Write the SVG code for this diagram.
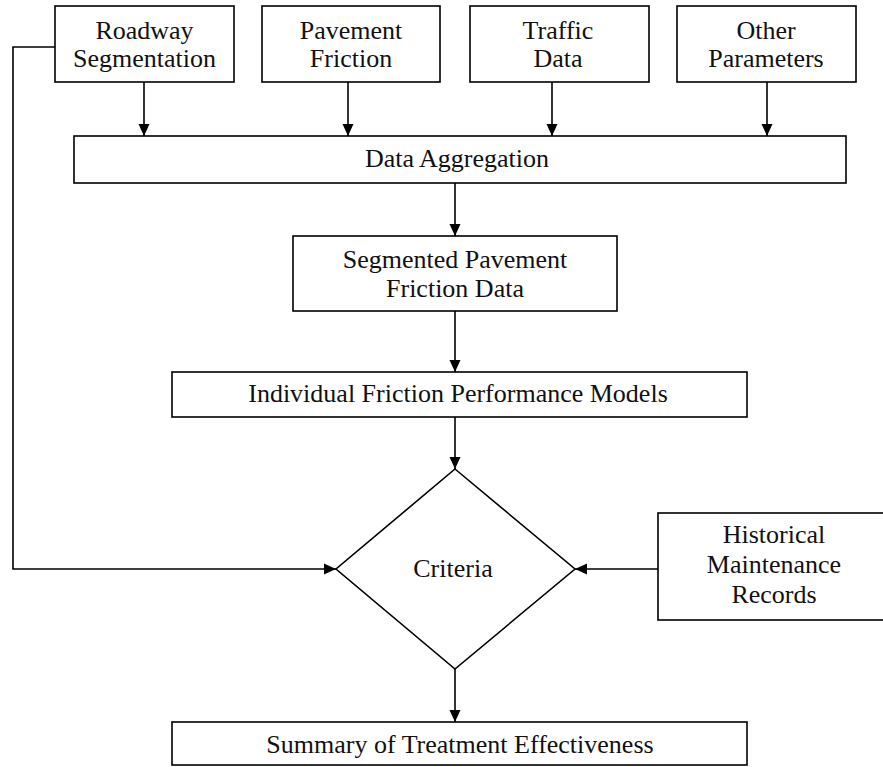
<svg xmlns="http://www.w3.org/2000/svg" width="883" height="767" viewBox="0 0 883 767">
<style>
.box{fill:#fff;stroke:#000;stroke-width:1.6}
.t{font-family:"Liberation Serif","Times New Roman",serif;font-size:26px;fill:#111;text-anchor:middle}
.c{fill:none;stroke:#000;stroke-width:1.6}
</style>
<defs>
<marker id="ah" markerWidth="12" markerHeight="12" refX="12" refY="6" orient="auto" markerUnits="userSpaceOnUse">
<path d="M0,0.5 L12,6 L0,11.5 Z" fill="#000"/>
</marker>
</defs>
<rect width="883" height="767" fill="#fff"/>
<g id="connectors">
<line class="c" x1="144" y1="82" x2="144" y2="136" marker-end="url(#ah)"/>
<line class="c" x1="348" y1="82" x2="348" y2="136" marker-end="url(#ah)"/>
<line class="c" x1="552" y1="82" x2="552" y2="136" marker-end="url(#ah)"/>
<line class="c" x1="767" y1="82" x2="767" y2="136" marker-end="url(#ah)"/>
<line class="c" x1="455" y1="183" x2="455" y2="236" marker-end="url(#ah)"/>
<line class="c" x1="455" y1="311" x2="455" y2="372" marker-end="url(#ah)"/>
<line class="c" x1="455" y1="417" x2="455" y2="469" marker-end="url(#ah)"/>
<line class="c" x1="455" y1="669" x2="455" y2="722" marker-end="url(#ah)"/>
<polyline class="c" points="55,47 13,47 13,569 336,569" marker-end="url(#ah)"/>
<line class="c" x1="658" y1="569" x2="575" y2="569" marker-end="url(#ah)"/>
</g>
<g id="roadway">
<rect class="box" x="55" y="6" width="179" height="76"/>
<text class="t" x="144.5" y="39">Roadway</text>
<text class="t" x="144.5" y="67">Segmentation</text>
</g>
<g id="pavement">
<rect class="box" x="262" y="6" width="178" height="76"/>
<text class="t" x="351" y="39">Pavement</text>
<text class="t" x="351" y="67">Friction</text>
</g>
<g id="traffic">
<rect class="box" x="470" y="6" width="179" height="76"/>
<text class="t" x="558" y="39">Traffic</text>
<text class="t" x="558" y="67">Data</text>
</g>
<g id="other">
<rect class="box" x="677" y="6" width="179" height="76"/>
<text class="t" x="766" y="39">Other</text>
<text class="t" x="766" y="67">Parameters</text>
</g>
<g id="aggregation">
<rect class="box" x="74" y="136" width="772" height="47"/>
<text class="t" x="457" y="167">Data Aggregation</text>
</g>
<g id="segmented">
<rect class="box" x="293" y="236" width="324" height="75"/>
<text class="t" x="455" y="268">Segmented Pavement</text>
<text class="t" x="455" y="297">Friction Data</text>
</g>
<g id="individual">
<rect class="box" x="172" y="372" width="575" height="45"/>
<text class="t" x="458" y="402">Individual Friction Performance Models</text>
</g>
<g id="criteria">
<polygon class="box" points="455,469 575,569 455,669 336,569"/>
<text class="t" x="453" y="577">Criteria</text>
</g>
<g id="historical">
<rect class="box" x="658" y="513" width="228" height="107"/>
<text class="t" x="774" y="543">Historical</text>
<text class="t" x="774" y="573">Maintenance</text>
<text class="t" x="774" y="603">Records</text>
</g>
<g id="summary">
<rect class="box" x="172" y="722" width="575" height="43"/>
<text class="t" x="460" y="753">Summary of Treatment Effectiveness</text>
</g>
</svg>
